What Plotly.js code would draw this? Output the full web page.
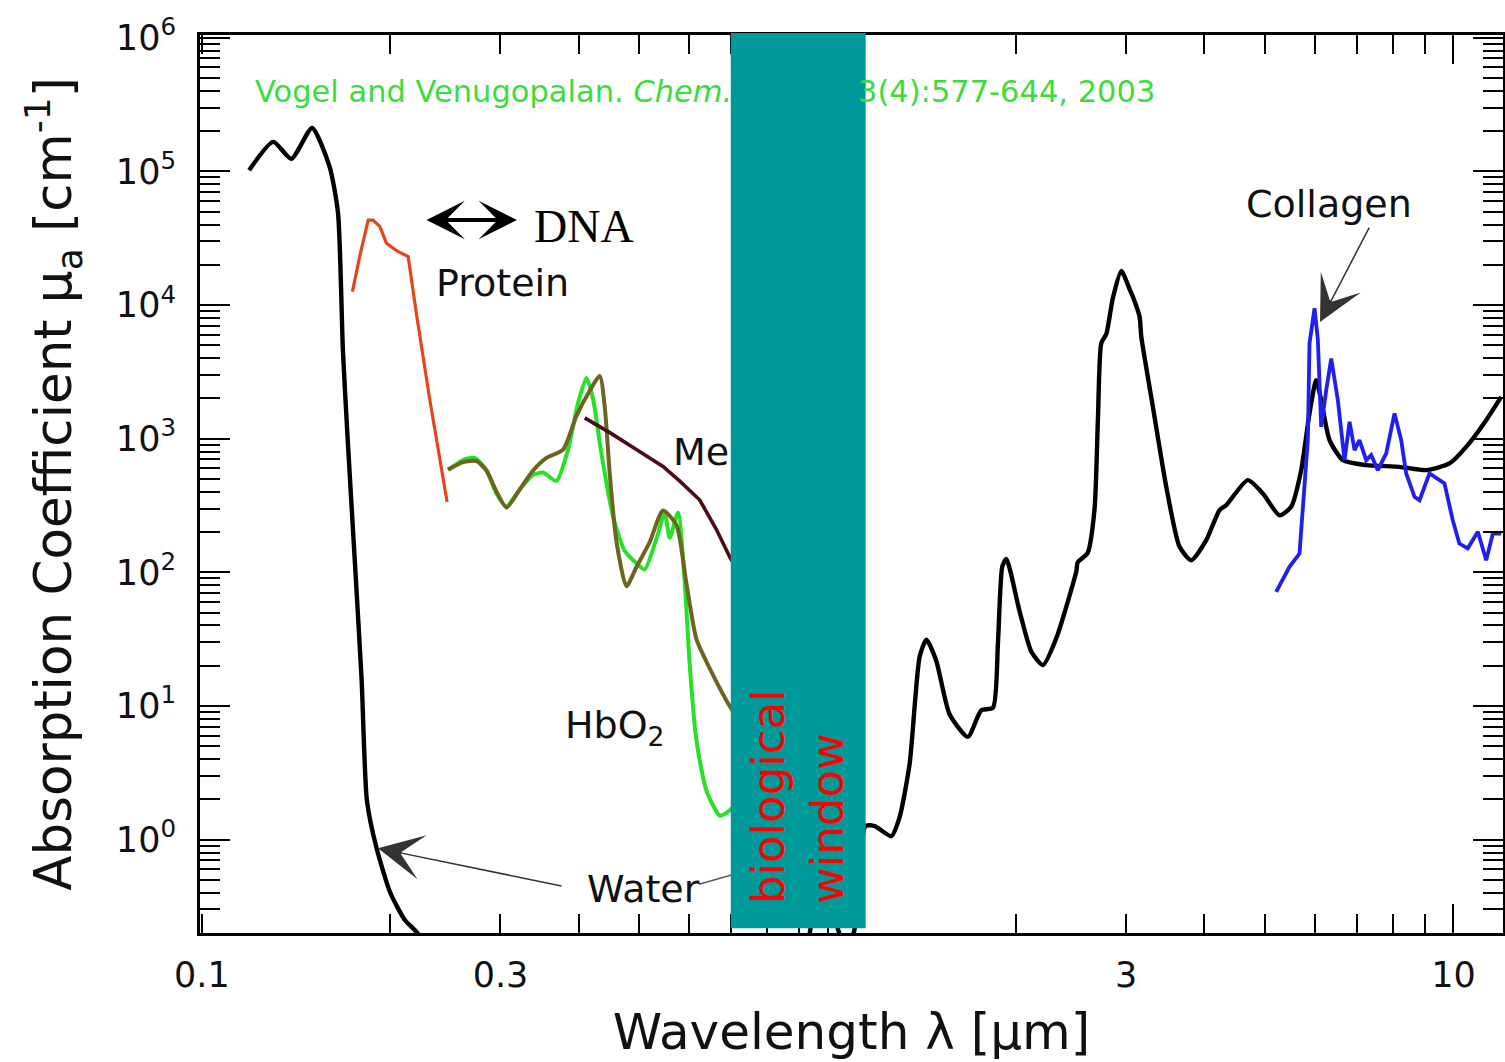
<!DOCTYPE html>
<html>
<head>
<meta charset="utf-8">
<script src="https://cdn.plot.ly/plotly-3.0.1.min.js"></script>
<style>
  html, body { margin: 0; padding: 0; background: #fff; }
  #chart { width: 1505px; height: 1062px; }
</style>
</head>
<body>
<div id="chart"></div>
<script>
// Absorption spectra of tissue constituents (wavelength in µm, µa in cm^-1)

// Water
const waterWl = [0.119, 0.130, 0.139, 0.150, 0.160, 0.165, 0.168, 0.171, 0.1756, 0.180, 0.1835, 0.190, 0.200, 0.211, 0.221,
  0.24, 0.30, 0.45, 0.60, 0.75, 0.84, 0.90, 0.97, 1.01, 1.06, 1.10,
  1.149, 1.189, 1.264, 1.303, 1.352, 1.403, 1.438, 1.491, 1.566, 1.675, 1.760, 1.837, 1.871, 1.901, 1.930,
  2.026, 2.116, 2.208, 2.319, 2.497, 2.509, 2.602, 2.670, 2.703, 2.737, 2.788, 2.856, 2.946, 3.037, 3.074,
  3.151, 3.171, 3.309, 3.476, 3.650, 3.811, 4.027, 4.229, 4.335, 4.693, 4.959, 5.272, 5.504, 5.711, 5.888,
  6.035, 6.147, 6.338, 6.657, 7.255, 8.199, 9.045, 9.854, 10.48, 11.28, 11.92];
const waterMu = [1.02e5, 1.66e5, 1.24e5, 2.11e5, 1.08e5, 4.9e4, 4.6e3, 980, 117, 15.6, 1.97, 0.875, 0.40, 0.25, 0.20,
  0.1, 0.002, 0.0001, 0.002, 0.026, 0.04, 0.07, 0.45, 0.33, 0.17, 0.2,
  1.26, 1.26, 1.06, 1.47, 3.69, 23.5, 31.3, 21.8, 8.67, 5.87, 9.29, 9.68, 29.6, 110, 126,
  51.1, 25.4, 20.2, 32.1, 102, 119, 139, 299, 1400, 5190, 6060, 11270, 17950, 13150, 11510,
  8160, 5780, 1730, 436, 155, 123, 174, 292, 318, 489, 389, 267, 309, 581, 1545,
  2740, 1940, 975, 690, 634, 615, 581, 652, 868, 1375, 2055];

// Protein
const proteinWl = [0.1740, 0.1788, 0.1844, 0.1877, 0.1924, 0.1972, 0.2046, 0.2136, 0.2203, 0.2312, 0.2465];
const proteinMu = [12600, 23300, 43200, 43200, 38700, 29000, 25500, 23000, 8450, 1980, 335];

// Oxyhemoglobin
const hbo2Wl = [0.2474, 0.2615, 0.2729, 0.2850, 0.2957, 0.3067, 0.3221, 0.3382, 0.3509, 0.3686,
  0.3847, 0.3991, 0.4116, 0.4218, 0.4350, 0.4540, 0.4738, 0.4946, 0.5100, 0.5356,
  0.5490, 0.5592, 0.5765, 0.5907, 0.6018, 0.6168, 0.6400, 0.6724, 0.6931, 0.75];
const hbo2Mu = [585, 692, 718, 577, 387, 311, 417, 537, 557, 482,
  828, 1845, 2845, 1980, 771, 260, 145, 117, 105, 194,
  279, 181, 279, 87.5, 20.5, 5.56, 2.33, 1.51, 1.62, 2.4];

// Deoxyhemoglobin
const hbWl = [0.2474, 0.2615, 0.2747, 0.2850, 0.2957, 0.3067, 0.3221, 0.3382, 0.3553, 0.3777,
  0.3968, 0.4168, 0.4323, 0.4404, 0.4486, 0.4598, 0.4769, 0.4946, 0.5195, 0.5455,
  0.5733, 0.5949, 0.6168, 0.6478, 0.6974, 0.75];
const hbMu = [585, 667, 679, 577, 401, 305, 417, 577, 718, 828,
  1482, 2290, 2950, 1712, 537, 168, 78.5, 109, 168, 290,
  225, 81.5, 31.7, 19.1, 9.95, 6];

// Melanin
const melaninWl = [0.4090, 0.4486, 0.4946, 0.5455, 0.5804, 0.6246, 0.6641, 0.6998, 0.75];
const melaninMu = [1429, 1109, 828, 620, 481, 347, 209, 126, 80];

// Collagen
const collagenWl = [5.208, 5.470, 5.675, 5.852, 5.888, 5.998, 6.072, 6.147, 6.262, 6.378,
  6.535, 6.698, 6.823, 6.950, 7.076, 7.254, 7.389, 7.571, 7.808, 8.051,
  8.250, 8.404, 8.665, 8.826, 9.156, 9.675, 9.975, 10.22, 10.54, 10.94,
  11.28, 11.56, 11.92];
const collagenMu = [71.3, 110, 138, 975, 5160, 9440, 5460, 1225, 2310, 3980,
  1940, 690, 1335, 820, 975, 690, 753, 581, 775, 1545,
  975, 549, 367, 346, 549, 462, 245, 164, 151, 201,
  123, 195, 195];

// Biological window (µm)
const windowRange = [0.70, 1.15];

// Axis ticks
const xTickVals = [0.1, 0.3, 3, 10];
const xTickText = ['0.1', '0.3', '3', '10'];
const xMajorVals = [1, 10];
const xMinorVals = [0.2, 0.4, 0.5, 0.6, 0.7, 0.8, 0.9, 1, 2, 4, 5, 6, 7, 8, 9];
const yTickVals = [1, 10, 100, 1e3, 1e4, 1e5, 1e6];
const yTickText = ['10<sup>0</sup>', '10<sup>1</sup>', '10<sup>2</sup>', '10<sup>3</sup>',
  '10<sup>4</sup>', '10<sup>5</sup>', '10<sup>6</sup>'];

const yMinorVals = [];
for (let e = -1; e <= 5; e++) {
  for (let m = 2; m <= 9; m++) yMinorVals.push(m * Math.pow(10, e));
}

// Plot frame in page pixels
const W = 1505, H = 1062;
const L = 200, R = 1503, T = 35, B = 932.7;
const px = x => (x - L) / (R - L);
const py = y => (B - y) / (B - T);

const xRange = [Math.log10(0.0993), Math.log10(12.0)];
const yRange = [-0.699, 6.02];
// wavelength -> paper fraction along the log x axis
const wlPaper = wl => (Math.log10(wl) - xRange[0]) / (xRange[1] - xRange[0]);

const FONT = 'DejaVu Sans, Verdana, sans-serif';

function line(x, y, color, width, shape, axis) {
  const t = {
    x: x, y: y, type: 'scatter', mode: 'lines',
    line: {color: color, width: width, shape: shape || 'linear'},
    hoverinfo: 'skip'
  };
  if (shape === 'spline') t.line.smoothing = 0.6;
  if (axis) t.xaxis = axis;
  return t;
}

const traces = [
  line(waterWl, waterMu, '#000000', 4.4, 'spline'),
  line(proteinWl, proteinMu, '#e0471b', 3.2),
  line(hbo2Wl, hbo2Mu, '#27e027', 4, 'spline'),
  line(hbWl, hbMu, '#6d6420', 4, 'spline'),
  line(melaninWl, melaninMu, '#4c0c14', 3.6),
  line(collagenWl, collagenMu, '#1f1ff0', 3.8, 'linear', 'x2')
];

const axisLine = {showline: true, linecolor: '#000', linewidth: 3, showgrid: false, zeroline: false};

const layout = {
  width: W, height: H,
  margin: {l: L, r: W - R, t: T, b: H - B, pad: 0},
  paper_bgcolor: '#ffffff', plot_bgcolor: '#ffffff',
  showlegend: false,
  font: {family: FONT, color: '#111'},
  xaxis: Object.assign({}, axisLine, {
    type: 'log', range: xRange, mirror: 'ticks',
    ticks: 'inside', ticklen: 19, tickwidth: 2, tickcolor: '#000',
    tickmode: 'array', tickvals: xTickVals, ticktext: xTickText,
    tickfont: {family: FONT, size: 35, color: '#111'},
    ticklabelstandoff: 9,
    minor: {ticks: 'inside', ticklen: 19, tickwidth: 2, tickcolor: '#000', tickmode: 'array', tickvals: xMinorVals},
    title: {text: 'Wavelength λ [μm]', font: {family: FONT, size: 50, color: '#111'}, standoff: 20}
  }),
  xaxis2: Object.assign({}, axisLine, {
    type: 'log', range: xRange, overlaying: 'x', anchor: 'y', side: 'bottom', mirror: 'ticks',
    ticks: 'inside', ticklen: 29, tickwidth: 2, tickcolor: '#000',
    tickmode: 'array', tickvals: xMajorVals, showticklabels: false
  }),
  yaxis: Object.assign({}, axisLine, {
    type: 'log', range: yRange, mirror: 'ticks',
    ticks: 'inside', ticklen: 30, tickwidth: 2, tickcolor: '#000',
    tickmode: 'array', tickvals: yTickVals, ticktext: yTickText,
    tickfont: {family: FONT, size: 35, color: '#111'},
    ticklabelstandoff: 14,
    minor: {ticks: 'inside', ticklen: 20, tickwidth: 2, tickcolor: '#000', tickmode: 'array', tickvals: yMinorVals},
    title: {text: 'Absorption Coefficient μ<sub>a</sub> [cm<sup>-1</sup>]', font: {family: FONT, size: 51.5, color: '#111'}, standoff: 28}
  }),
  shapes: [
    // Water pointer running into the window
    {type: 'line', xref: 'paper', yref: 'paper', layer: 'above',
     x0: px(699), y0: py(884), x1: px(790), y1: py(858),
     line: {color: '#555', width: 1.4}},
    // Biological window
    {type: 'rect', xref: 'paper', yref: 'paper', layer: 'above',
     x0: wlPaper(windowRange[0]), x1: wlPaper(windowRange[1]),
     y0: py(928), y1: py(33),
     fillcolor: '#009999', line: {width: 0}}
  ],
  annotations: []
};

const ann = layout.annotations;
function label(text, x, y, opts) {
  ann.push(Object.assign({
    text: text, xref: 'paper', yref: 'paper', x: px(x), y: py(y),
    xanchor: 'center', yanchor: 'middle', showarrow: false,
    font: {family: FONT, size: 38, color: '#111'}
  }, opts || {}));
}
function arrow(headX, headY, tailX, tailY, opts) {
  ann.push(Object.assign({
    text: '', xref: 'paper', yref: 'paper', x: px(headX), y: py(headY),
    ax: tailX - headX, ay: tailY - headY, axref: 'pixel', ayref: 'pixel',
    showarrow: true, arrowhead: 3, arrowsize: 5, arrowwidth: 1.5, arrowcolor: '#333'
  }, opts || {}));
}

const citeFont = {family: FONT, size: 30.5, color: '#3ddc3d'};
label('Vogel and Venugopalan. <i>Chem.</i>', 253, 91, {xanchor: 'left', font: citeFont});
label('3(4):577-644, 2003', 1157, 91, {xanchor: 'right', font: citeFont});

label('Protein', 502, 283);
label('Me', 731, 452, {xanchor: 'right'});
label('HbO<sub>2</sub>', 615, 727);
label('Water', 643, 889);
label('Collagen', 1329, 204);
label('DNA', 532, 226, {xanchor: 'left', font: {family: 'Liberation Serif, Times New Roman, serif', size: 46, color: '#000'}});

arrow(517, 220, 425, 220, {arrowside: 'end+start', arrowhead: 3, startarrowhead: 3,
  arrowwidth: 4, arrowsize: 1.6, startarrowsize: 1.6, arrowcolor: '#000'});
arrow(378, 848, 563, 886);
arrow(1320, 322, 1370, 226);

ann.push({
  text: 'biological<br>window', xref: 'paper', yref: 'paper',
  x: wlPaper(Math.sqrt(windowRange[0] * windowRange[1])), y: py(906),
  xanchor: 'center', yanchor: 'bottom', textangle: -90, align: 'left',
  showarrow: false, font: {family: FONT, size: 45, color: '#ff0000'}
});

Plotly.newPlot('chart', traces, layout, {displayModeBar: false, staticPlot: true});
</script>
</body>
</html>
